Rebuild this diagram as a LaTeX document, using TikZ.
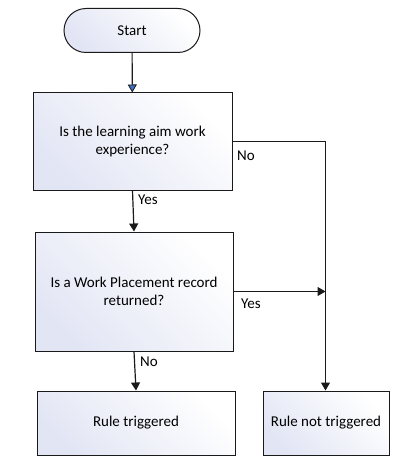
\documentclass[tikz,border=0pt]{standalone}
\usepackage{fontspec}
\setmainfont{Carlito}
\usetikzlibrary{arrows.meta,shapes.misc}
\definecolor{fillc}{HTML}{E2E5F4}
\definecolor{linec}{HTML}{1A1A1A}
\definecolor{tipblue}{HTML}{3F6FBF}
\tikzset{
  box/.style={draw=linec, line width=1pt, left color=fillc, right color=white, shading angle=135, align=center, font=\fontsize{15}{18}\selectfont, inner sep=0pt},
  conn/.style={draw=linec, line width=1.2pt, -{Triangle[length=8pt,width=9pt]}},
  lbl/.style={font=\fontsize{15}{18}\selectfont, inner sep=0pt, anchor=west},
}
\begin{document}
\begin{tikzpicture}[x=1pt,y=-1pt]
\useasboundingbox (0,0) rectangle (415,468);
\node[box, rounded rectangle, minimum width=136pt, minimum height=44pt] (start) at (132,30.5) {Start};
\node[box, minimum width=199pt, minimum height=97pt] (q1) at (132.5,141.5) {Is the learning aim work\\experience?};
\node[box, minimum width=198pt, minimum height=119pt] (q2) at (134,291.5) {Is a Work Placement record\\returned?};
\node[box, minimum width=198pt, minimum height=64pt] (r1) at (136,423) {Rule triggered};
\node[box, minimum width=126pt, minimum height=64pt] (r2) at (326,423) {Rule not triggered};
\coordinate (c1) at (325.5,141.5);
\draw[draw=linec, line width=1.2pt, -{Triangle[length=8pt,width=9pt,fill=tipblue,line width=0.8pt]}] (start) -- (q1);
\draw[conn] (q1.south) -- (q2.north);
\draw[conn] (q2.south) -- (r1.north);
\draw[conn] (q1.east |- c1) -- (c1) -- (r2.north -| c1);
\draw[conn] (q2.east) -- (q2.east -| c1);
\node[lbl] (l1) at (237,156) {No};
\node[lbl] (l2) at (138,200) {Yes};
\node[lbl] (l3) at (241,304) {Yes};
\node[lbl] (l4) at (140,362) {No};
\end{tikzpicture}
\end{document}
